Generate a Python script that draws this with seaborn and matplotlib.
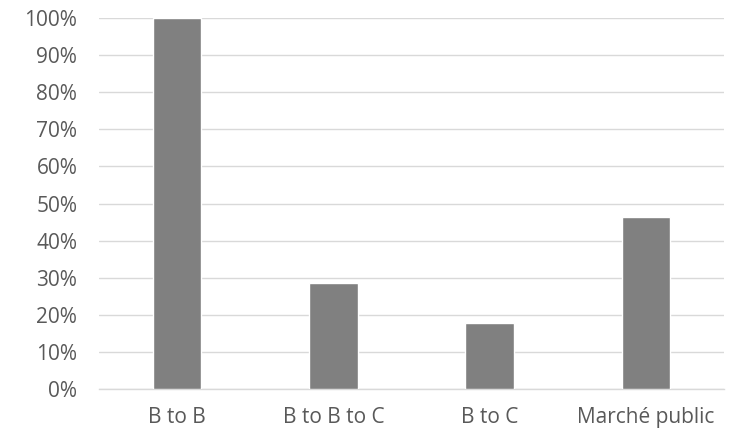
import matplotlib
matplotlib.use("Agg")
import matplotlib.pyplot as plt
import seaborn as sns
import pandas as pd
from matplotlib.ticker import PercentFormatter

categories = ["B to B", "B to B to C", "B to C", "Marché public"]
values = [100.0, 28.5, 17.7, 46.5]

df = pd.DataFrame({"cat": categories, "val": values})

sns.set_theme(style="white")
plt.rcParams['font.family'] = ['Open Sans', 'DejaVu Sans']

fig = plt.figure(figsize=(7.32, 4.32), dpi=100)
ax = fig.add_axes([0.135, 0.0995, 0.8544, 0.8588])

sns.barplot(data=df, x="cat", y="val", color="#808080", saturation=1,
            width=0.311, ax=ax, zorder=3)

ax.set_ylim(0, 100)
ax.set_xlim(-0.5, 3.5)
ax.set_yticks(range(0, 101, 10))
ax.yaxis.set_major_formatter(PercentFormatter(decimals=0))
ax.grid(axis="y", color="#d9d9d9", linewidth=1, zorder=0)
ax.set_axisbelow(True)
for s in ["top", "right", "left"]:
    ax.spines[s].set_visible(False)
ax.spines["bottom"].set_color("#d9d9d9")
ax.spines["bottom"].set_linewidth(1)
ax.tick_params(axis="both", length=0, labelsize=15, labelcolor="#595959")
ax.tick_params(axis="x", pad=13)
ax.tick_params(axis="y", pad=15.5)
ax.set_xlabel("")
ax.set_ylabel("")

fig.savefig("out.png", dpi=100)
